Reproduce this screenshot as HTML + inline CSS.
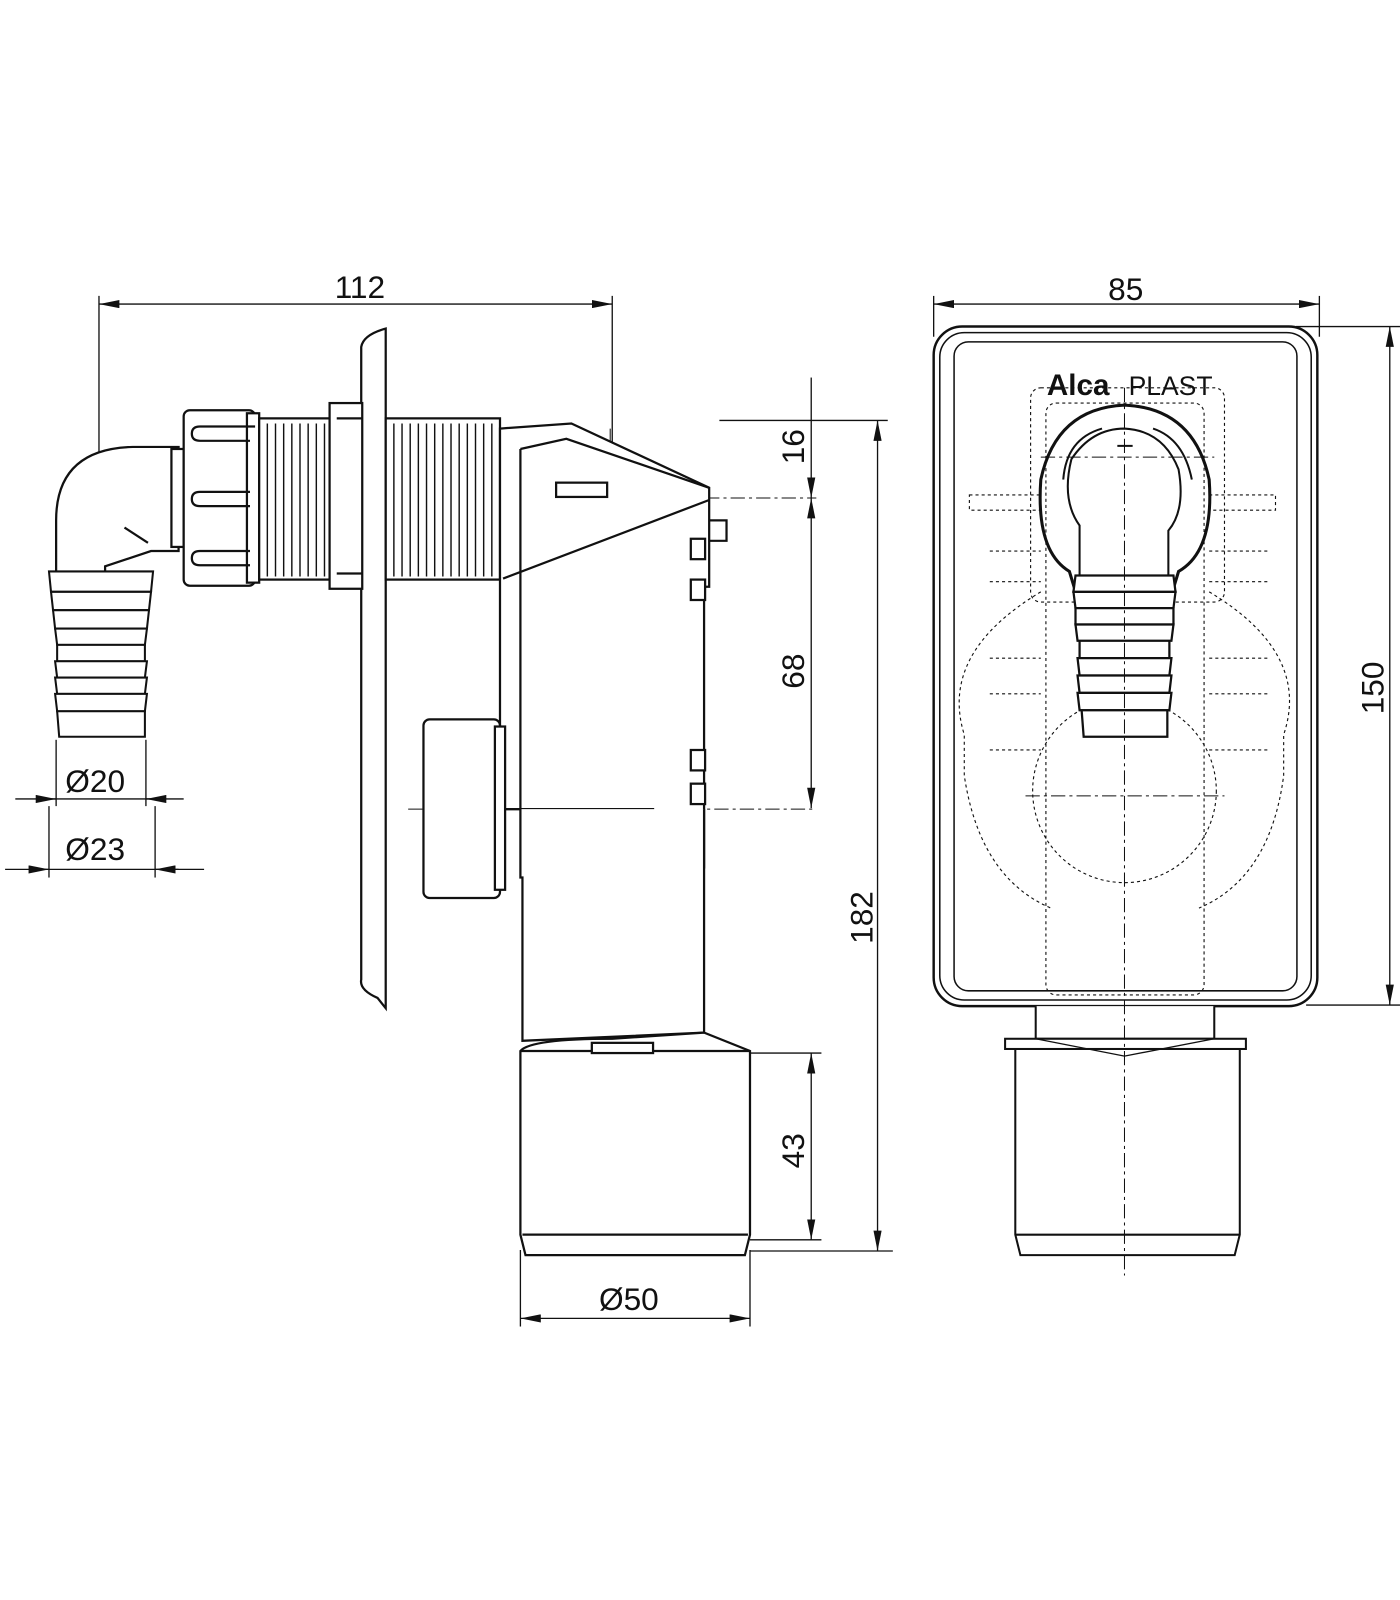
<!DOCTYPE html>
<html><head><meta charset="utf-8"><style>
html,body{margin:0;padding:0;background:#fff;width:1400px;height:1600px;overflow:hidden}
svg{display:block}
text{font-family:"Liberation Sans",sans-serif;fill:#111}
</style></head><body>
<svg width="1400" height="1600" viewBox="0 0 1400 1600" xmlns="http://www.w3.org/2000/svg">
<defs>
<marker id="a" viewBox="0 0 20 8" refX="20" refY="4" markerWidth="20" markerHeight="8" orient="auto-start-reverse" markerUnits="userSpaceOnUse"><path d="M0,0 L20,4 L0,8 Z" fill="#111"/></marker>
</defs>
<g transform="scale(1.0204)">
<g stroke="#111" fill="none" stroke-width="1.3">
<line x1="97" y1="298" x2="600" y2="298" marker-start="url(#a)" marker-end="url(#a)"/>
<line x1="97" y1="290" x2="97" y2="700"/>
<line x1="600" y1="290" x2="600" y2="530"/>
<line x1="915" y1="298" x2="1293" y2="298" marker-start="url(#a)" marker-end="url(#a)"/>
<line x1="915" y1="290" x2="915" y2="330"/>
<line x1="1293" y1="290" x2="1293" y2="330"/>
<line x1="1362" y1="320" x2="1362" y2="985" marker-start="url(#a)" marker-end="url(#a)"/>
<line x1="1270" y1="320" x2="1372" y2="320"/>
<line x1="1280" y1="985" x2="1372" y2="985"/>
<line x1="860" y1="412" x2="860" y2="1226" marker-start="url(#a)" marker-end="url(#a)"/>
<line x1="705" y1="412" x2="870" y2="412"/>
<line x1="735" y1="1226" x2="875" y2="1226"/>
<line x1="795" y1="370" x2="795" y2="488" marker-end="url(#a)"/>
<line x1="795" y1="488" x2="795" y2="792" marker-start="url(#a)" marker-end="url(#a)"/>
<line x1="795" y1="1032" x2="795" y2="1215" marker-start="url(#a)" marker-end="url(#a)"/>
<line x1="735" y1="1032" x2="805" y2="1032"/>
<line x1="735" y1="1215" x2="805" y2="1215"/>
<line x1="510" y1="1292" x2="735" y2="1292" marker-start="url(#a)" marker-end="url(#a)"/>
<line x1="510" y1="1225" x2="510" y2="1300"/>
<line x1="735" y1="1225" x2="735" y2="1300"/>
<line x1="15" y1="783" x2="180" y2="783"/>
<line x1="40" y1="783" x2="55" y2="783" marker-end="url(#a)"/>
<line x1="160" y1="783" x2="143" y2="783" marker-end="url(#a)"/>
<line x1="55" y1="725" x2="55" y2="790"/><line x1="143" y1="725" x2="143" y2="790"/>
<line x1="5" y1="852" x2="200" y2="852"/>
<line x1="28" y1="852" x2="48" y2="852" marker-end="url(#a)"/>
<line x1="175" y1="852" x2="152" y2="852" marker-end="url(#a)"/>
<line x1="48" y1="790" x2="48" y2="860"/><line x1="152" y1="790" x2="152" y2="860"/>
</g>
<g stroke="#111" stroke-width="1" fill="none" stroke-dasharray="14,4,3,4">
<line x1="66" y1="488" x2="800" y2="488"/>
<line x1="400" y1="793" x2="800" y2="793"/>
<line x1="97" y1="470" x2="97" y2="700"/>
<line x1="598" y1="420" x2="598" y2="1060"/>
<line x1="1005" y1="780" x2="1200" y2="780"/>
<line x1="1020" y1="448" x2="1190" y2="448"/>
</g>
<g stroke="#111" fill="#fff" stroke-width="2.2">
<path d="M378,322 L378,988 L370,978 Q352,970 354,960 L354,340 Q356,328 378,322 Z"/>
<path d="M175,438 L130,438 Q55,440 55,510 L55,570 L103,570 L103,555 L148,540 L175,540 Z"/>
<path d="M122,517 L145,532" fill="none"/>
<g stroke-width="2">
<path d="M48,560 L150,560 L148,580 L50,580 Z"/>
<path d="M50,580 L148,580 L146,598 L52,598 Z"/>
<path d="M52,598 L146,598 L144,616 L54,616 Z"/>
<path d="M54,616 L144,616 L142,632 L56,632 Z"/>
<path d="M56,632 L142,632 L142,648 L56,648 Z"/>
<path d="M54,648 L144,648 L142,664 L56,664 Z"/>
<path d="M54,664 L144,664 L142,680 L56,680 Z"/>
<path d="M54,680 L144,680 L142,697 L56,697 Z"/>
<path d="M56,697 L142,697 L142,722 L58,722 Z"/>
</g>
<rect x="168" y="440" width="12" height="96"/>
<rect x="180" y="402" width="70" height="172" rx="6"/>
<rect x="242" y="405" width="12" height="166"/>
<path d="M250,418 L196,418 Q188,418 188,425 Q188,432 196,432 L245,432 M245,482 L196,482 Q188,482 188,489 Q188,496 196,496 L245,496 M245,540 L196,540 Q188,540 188,547 Q188,554 196,554 L245,554" fill="none"/>
<rect x="254" y="410" width="70" height="158"/>
<rect x="378" y="410" width="112" height="158"/>
<rect x="323" y="395" width="32" height="182"/>
<line x1="330" y1="410" x2="355" y2="410"/><line x1="330" y1="562" x2="355" y2="562"/>
<path d="M490,420 L560,415 L695,478 L695,575 L690,575 L690,850 L640,850 L640,793 L490,793 Z"/>
<path d="M510,440 L555,430 L695,478" fill="none"/>
<path d="M493,567 L695,490" fill="none"/>
<line x1="510" y1="440" x2="510" y2="793"/>
<rect x="545" y="473" width="50" height="14"/>
<path d="M695,510 L712,510 L712,530 L695,530" fill="none"/>
<rect x="677" y="528" width="14" height="20"/><rect x="677" y="568" width="14" height="20"/>
<rect x="677" y="735" width="14" height="20"/><rect x="677" y="768" width="14" height="20"/>
<path d="M490,793 L510,793 L510,860 L512,860 L512,1020 L690,1012 L690,793" />
<rect x="415" y="705" width="75" height="175" rx="6"/>
<rect x="485" y="712" width="10" height="160"/>
<path d="M510,1030 Q520,1018 600,1018 L690,1012 L735,1030 L735,1210 L730,1230 L515,1230 L510,1210 Z"/>
<line x1="510" y1="1030" x2="735" y2="1030"/>
<line x1="512" y1="1210" x2="733" y2="1210"/>
<rect x="580" y="1022" width="60" height="10"/>
</g>
<g stroke="#111" stroke-width="1.4">
<path d="M262,415 L262,565 M270,415 L270,565 M278,415 L278,565 M286,415 L286,565 M294,415 L294,565 M302,415 L302,565 M310,415 L310,565 M318,415 L318,565 M386,415 L386,565 M394,415 L394,565 M402,415 L402,565 M410,415 L410,565 M418,415 L418,565 M426,415 L426,565 M434,415 L434,565 M442,415 L442,565 M450,415 L450,565 M458,415 L458,565 M466,415 L466,565 M474,415 L474,565 M482,415 L482,565"/>
</g>
<g stroke="#111" fill="none">
<rect x="915" y="320" width="376" height="666" rx="28" stroke-width="2.4"/>
<rect x="921" y="326" width="364" height="654" rx="24" stroke-width="1.5"/>
<rect x="935" y="335" width="336" height="636" rx="14" stroke-width="1.5"/>
<g stroke-dasharray="3,3" stroke-width="1.1">
<rect x="1025" y="395" width="155" height="580" rx="10"/>
<rect x="1010" y="380" width="190" height="210" rx="10"/>
<circle cx="1102" cy="775" r="90"/>
<path d="M1020,580 Q920,640 945,720 L945,760 Q960,860 1030,890 M1185,580 Q1285,640 1258,720 L1258,760 Q1245,860 1175,890"/>
<path d="M950,485 L1020,485 L1020,500 L950,500 Z M1185,485 L1250,485 L1250,500 L1185,500 Z"/>
<path d="M970,540 L1020,540 M970,570 L1020,570 M1185,540 L1245,540 M1185,570 L1245,570"/>
<path d="M970,645 L1020,645 M970,680 L1020,680 M1185,645 L1245,645 M1185,680 L1245,680"/>
<path d="M970,735 L1020,735 M1185,735 L1245,735"/>
</g>
<path d="M1058,593 L1048,560 Q1015,540 1020,470 Q1035,400 1102,397 Q1170,400 1185,470 Q1190,540 1155,560 L1145,593" stroke-width="3"/>
<path d="M1058,575 L1058,515 Q1040,490 1050,450 Q1070,420 1102,420 Q1140,422 1155,460 Q1162,500 1145,520 L1145,575" stroke-width="2"/>
<path d="M1042,470 Q1045,430 1080,420 M1130,420 Q1160,430 1168,470 M1095,437 L1110,437" stroke-width="2"/>
<g stroke-width="2.2" fill="#fff">
<path d="M1054,564 L1150,564 L1152,580 L1052,580 Z"/>
<path d="M1052,580 L1152,580 L1150,596 L1054,596 Z"/>
<path d="M1054,596 L1150,596 L1150,612 L1054,612 Z"/>
<path d="M1054,612 L1150,612 L1148,628 L1056,628 Z"/>
<path d="M1058,628 L1146,628 L1146,645 L1058,645 Z"/>
<path d="M1056,645 L1148,645 L1146,662 L1058,662 Z"/>
<path d="M1056,662 L1148,662 L1146,679 L1058,679 Z"/>
<path d="M1056,679 L1148,679 L1146,696 L1058,696 Z"/>
<path d="M1060,696 L1144,696 L1144,722 L1062,722 Z"/>
</g>
<g stroke-width="2" fill="#fff">
<path d="M1015,986 L1015,1018 L1190,1018 L1190,986"/>
<rect x="985" y="1018" width="236" height="10"/>
<path d="M995,1028 L1215,1028 L1215,1210 L1210,1230 L1000,1230 L995,1210 Z"/>
<line x1="995" y1="1210" x2="1215" y2="1210"/>
<path d="M1015,1018 L1102,1035 L1190,1018" fill="none" stroke-width="1.3"/>
</g>
</g>
<line x1="1102" y1="380" x2="1102" y2="1250" stroke="#111" stroke-width="1" stroke-dasharray="14,4,3,4"/>
<text x="1026" y="387" font-size="29" font-weight="bold" fill="#222">Alca</text>
<text x="1106" y="387" font-size="26" fill="#222">PLAST</text>
<g font-size="31">
<text x="328" y="292">112</text>
<text x="1086" y="294">85</text>
<text x="64" y="776">Ø20</text>
<text x="64" y="843">Ø23</text>
<text x="587" y="1284">Ø50</text>
<text transform="translate(788,455) rotate(-90)">16</text>
<text transform="translate(788,675) rotate(-90)">68</text>
<text transform="translate(788,1145) rotate(-90)">43</text>
<text transform="translate(855,925) rotate(-90)">182</text>
<text transform="translate(1356,700) rotate(-90)">150</text>
</g>
</g>
</svg>
</body></html>
